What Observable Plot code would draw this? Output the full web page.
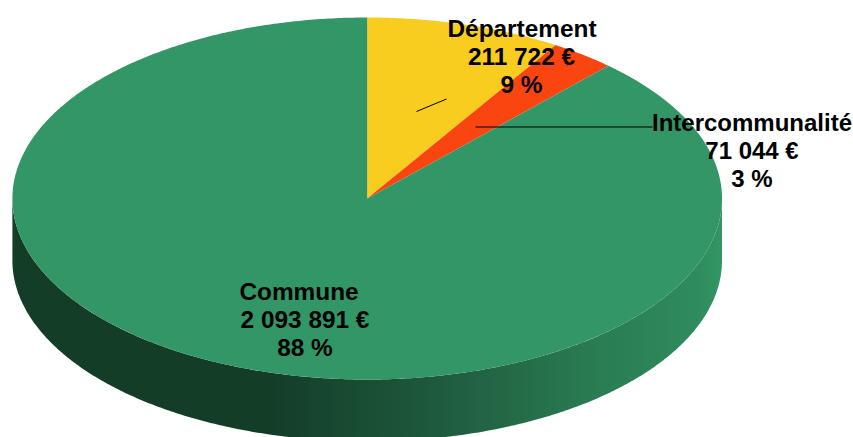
<!DOCTYPE html>
<html><head><meta charset="utf-8">
<style>html,body{margin:0;padding:0;background:#fff}svg{display:block}</style>
<script src="https://cdn.jsdelivr.net/npm/d3@7"></script>
<script src="https://cdn.jsdelivr.net/npm/@observablehq/plot@0.6"></script>
</head><body><div id="chart"></div>
<script>
const categories = ["Département", "Intercommunalité", "Commune"];
const amounts = [211722, 71044, 2093891];
const amountLabels = ["211 722 €", "71 044 €", "2 093 891 €"];
const percentLabels = ["9 %", "3 %", "88 %"];
const colors = ["#f9cd1f", "#fa4510", "#339667"];

const W = 853, H = 437, cx = 366.7, cy = 198, rx = 354.8, ry = 181, depth = 62 / ry;
const total = d3.sum(amounts);
const step = Math.PI / 360;
const pt = (a, dz = 0) => ({px: Math.sin(a), py: Math.cos(a) - dz});
const ux = p => (p - cx) / rx, uy = p => (cy - p) / ry;

let acc = 0;
const slices = [], labelRows = [];
const labelPos = [
  [[521.5, 29], [521, 57], [521, 85]],
  [[751.5, 123], [751.5, 151], [751.5, 179]],
  [[298.5, 292], [304.5, 320], [304.5, 348]]
];
const labelSizes = [24.4, 24, 24.4];
amounts.forEach((v, i) => {
  const a0 = acc / total * 2 * Math.PI; acc += v;
  const a1 = acc / total * 2 * Math.PI;
  const poly = [{px: 0, py: 0}];
  for (let a = a0; a < a1; a += step) poly.push(pt(a));
  poly.push(pt(a1), {px: 0, py: 0});
  poly.forEach(p => slices.push({...p, k: categories[i], fill: colors[i]}));
  [categories[i], amountLabels[i], percentLabels[i]].forEach((t, j) =>
    labelRows.push({px: ux(labelPos[i][j][0]), py: uy(labelPos[i][j][1]), t, size: labelSizes[i]}));
});

const wall = [];
for (let a = Math.PI / 2; a <= 1.5 * Math.PI + 1e-9; a += step) wall.push(pt(a));
for (let a = 1.5 * Math.PI; a >= Math.PI / 2 - 1e-9; a -= step) wall.push(pt(a, depth));

const leaders = [
  {x1: ux(416), y1: uy(111), x2: ux(446), y2: uy(98.5)},
  {x1: ux(475), y1: uy(126.5), x2: ux(652), y2: uy(126.5)}
];

const gradient = () => {
  const defs = d3.create("svg:defs");
  const g = defs.append("linearGradient").attr("id", "wallGrad")
    .attr("gradientUnits", "userSpaceOnUse")
    .attr("x1", 270).attr("y1", 0).attr("x2", 722).attr("y2", 0);
  [[0, "#143d28"], [0.3, "#1c5439"], [0.7, "#297a52"], [0.95, "#2f8c5e"], [1, "#339764"]]
    .forEach(([o, c]) => g.append("stop").attr("offset", o).attr("stop-color", c));
  return defs.node();
};

const chart = Plot.plot({
  width: W, height: H, margin: 0,
  style: {background: "#fff", overflow: "hidden"},
  x: {domain: [ux(0), ux(W)], range: [0, W], axis: null},
  y: {domain: [uy(H), uy(0)], range: [H, 0], axis: null},
  marks: [
    gradient,
    Plot.line(wall, {x: "px", y: "py", fill: "url(#wallGrad)", stroke: "none", curve: "linear"}),
    Plot.line(slices, {x: "px", y: "py", z: "k", fill: "fill", stroke: "none", curve: "linear"}),
    Plot.link(leaders, {x1: "x1", y1: "y1", x2: "x2", y2: "y2", stroke: "#000", strokeWidth: 1}),
    Plot.text(labelRows.filter(d => d.size === 24.4), {x: "px", y: "py", text: "t", fill: "#000", textAnchor: "middle",
      fontFamily: "Liberation Sans", fontWeight: "bold", fontSize: 24.4, lineAnchor: "middle"}),
    Plot.text(labelRows.filter(d => d.size === 24), {x: "px", y: "py", text: "t", fill: "#000", textAnchor: "middle",
      fontFamily: "Liberation Sans", fontWeight: "bold", fontSize: 24, lineAnchor: "middle"})
  ]
});
document.getElementById("chart").append(chart);
</script></body></html>
